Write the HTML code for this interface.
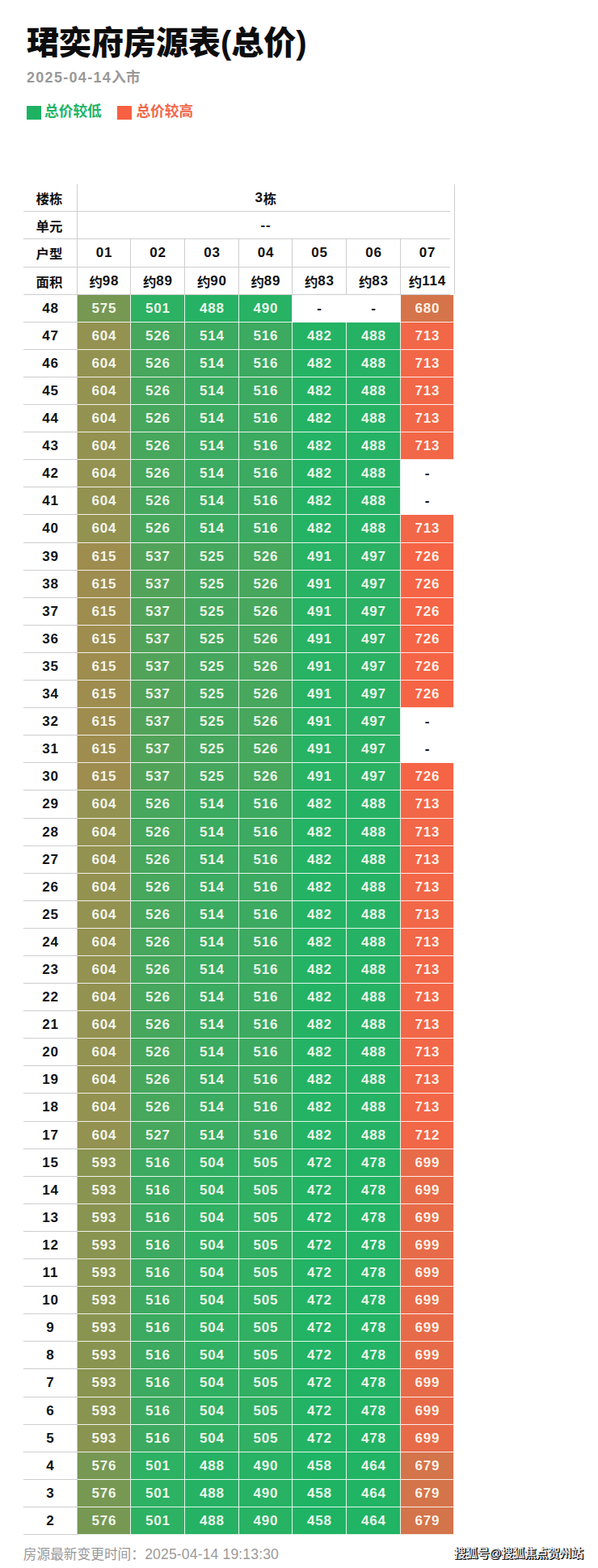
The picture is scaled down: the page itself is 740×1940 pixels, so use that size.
<!DOCTYPE html>
<html lang="zh-CN"><head><meta charset="utf-8">
<meta name="viewport" content="width=740">
<title>房源表</title>
<style>
html,body{margin:0;padding:0;background:#fff}
body{width:740px;height:1940px;position:relative;overflow:hidden;font-family:"Liberation Sans","Noto Sans CJK SC",sans-serif;color:#111}
.a{position:absolute;white-space:nowrap;letter-spacing:0}
.title{margin:0;font-size:40px;color:#0d0d0d;position:absolute;left:32.9px;top:28.6px;line-height:48px;font-weight:900;white-space:nowrap}
.sub{position:absolute;left:33px;top:83.6px;font-size:18px;line-height:24px;font-weight:bold;color:#999;letter-spacing:1.3px;white-space:nowrap}
.legend i{position:absolute;top:131px;width:18px;height:17px}
i.lo{background:#1cb262}i.hi{background:#f76042}
.tbl{position:absolute;left:29px;top:228px;display:grid;grid-template-columns:67px 66px 67px 67px 66px 67px 67px 66px;grid-template-rows:34px 34px 35px 34px 34px 34px 34px 34px 34px 34px 34px 34px 35px 34px 34px 34px 34px 34px 34px 34px 34px 34px 35px 34px 34px 34px 34px 34px 34px 34px 34px 34px 34px 35px 34px 34px 34px 34px 34px 34px 34px 34px 34px 35px 34px 34px 34px 34px 34px;font-size:17px;font-weight:bold;letter-spacing:.8px;text-align:center}
.tbl>div{box-sizing:border-box;display:flex;align-items:center;justify-content:center;padding-left:.8px;border-right:1px solid rgba(255,255,255,.88);border-bottom:1px solid rgba(255,255,255,.88);white-space:nowrap}
.tbl>.h{border-color:#cecece;color:#111}
.tbl>.s{grid-column:2 / span 7}
.tbl>.k{padding-left:0;padding-right:2px}
.tbl .c{font-size:16.4px;letter-spacing:0}
.tbl>.d{color:rgba(255,255,250,.93)}
.tbl>.e{color:#111}
.mask{position:absolute;left:557px;top:228px;width:5px;height:137px;background:#fff}
.rb{position:absolute;left:562px;top:228px;width:1px;height:136px;background:#cecece}
.foot{position:absolute;left:179.2px;top:1911.1px;font-size:17.6px;line-height:24px;color:#9a9a9a;letter-spacing:.13px;white-space:nowrap}

.v458{background:#1eb464}
.v464{background:#20b464}
.v472{background:#22b364}
.v478{background:#23b364}
.v482{background:#24b364}
.v488{background:#26b264}
.v490{background:#27b264}
.v491{background:#28b264}
.v497{background:#2bb163}
.v501{background:#2db163}
.v504{background:#30b062}
.v505{background:#31af62}
.v514{background:#3aab60}
.v516{background:#3caa60}
.v525{background:#45a75d}
.v526{background:#46a75d}
.v527{background:#47a75d}
.v537{background:#52a35a}
.v575{background:#769853}
.v576{background:#779853}
.v593{background:#8a9451}
.v604{background:#939251}
.v615{background:#9e8d4f}
.v679{background:#d4744b}
.v680{background:#d5744b}
.v699{background:#e86b49}
.v712{background:#f16748}
.v713{background:#f26748}
.v726{background:#f66446}
</style></head><body>
<h1 class="title">珺奕府房源表(总价)</h1>
<div class="sub">2025-04-14</div><span class="a" style="left:138px;top:86.4px;font-size:17.8px;line-height:21.36px;font-weight:bold;color:#999">入市</span>
<div class="legend"><i class="lo" style="left:33px"></i><span class="a" style="left:55px;top:128.1px;font-size:17.7px;line-height:21.24px;font-weight:bold;color:#20b466">总价较低</span><i class="hi" style="left:145.4px"></i><span class="a" style="left:168.4px;top:128.1px;font-size:17.7px;line-height:21.24px;font-weight:bold;color:#f2674b">总价较高</span></div>
<div class="tbl">
<div class="h k"><span class="c">楼栋</span></div><div class="h s">3<span class="c">栋</span></div>
<div class="h k"><span class="c">单元</span></div><div class="h s">--</div>
<div class="h k"><span class="c">户型</span></div><div class="h">01</div><div class="h">02</div><div class="h">03</div><div class="h">04</div><div class="h">05</div><div class="h">06</div><div class="h">07</div>
<div class="h k"><span class="c">面积</span></div><div class="h"><span class="c">约</span>98</div><div class="h"><span class="c">约</span>89</div><div class="h"><span class="c">约</span>90</div><div class="h"><span class="c">约</span>89</div><div class="h"><span class="c">约</span>83</div><div class="h"><span class="c">约</span>83</div><div class="h"><span class="c">约</span>114</div>
<div class="h">48</div><div class="d v575">575</div><div class="d v501">501</div><div class="d v488">488</div><div class="d v490">490</div><div class="e">-</div><div class="e">-</div><div class="d v680">680</div>
<div class="h">47</div><div class="d v604">604</div><div class="d v526">526</div><div class="d v514">514</div><div class="d v516">516</div><div class="d v482">482</div><div class="d v488">488</div><div class="d v713">713</div>
<div class="h">46</div><div class="d v604">604</div><div class="d v526">526</div><div class="d v514">514</div><div class="d v516">516</div><div class="d v482">482</div><div class="d v488">488</div><div class="d v713">713</div>
<div class="h">45</div><div class="d v604">604</div><div class="d v526">526</div><div class="d v514">514</div><div class="d v516">516</div><div class="d v482">482</div><div class="d v488">488</div><div class="d v713">713</div>
<div class="h">44</div><div class="d v604">604</div><div class="d v526">526</div><div class="d v514">514</div><div class="d v516">516</div><div class="d v482">482</div><div class="d v488">488</div><div class="d v713">713</div>
<div class="h">43</div><div class="d v604">604</div><div class="d v526">526</div><div class="d v514">514</div><div class="d v516">516</div><div class="d v482">482</div><div class="d v488">488</div><div class="d v713">713</div>
<div class="h">42</div><div class="d v604">604</div><div class="d v526">526</div><div class="d v514">514</div><div class="d v516">516</div><div class="d v482">482</div><div class="d v488">488</div><div class="e">-</div>
<div class="h">41</div><div class="d v604">604</div><div class="d v526">526</div><div class="d v514">514</div><div class="d v516">516</div><div class="d v482">482</div><div class="d v488">488</div><div class="e">-</div>
<div class="h">40</div><div class="d v604">604</div><div class="d v526">526</div><div class="d v514">514</div><div class="d v516">516</div><div class="d v482">482</div><div class="d v488">488</div><div class="d v713">713</div>
<div class="h">39</div><div class="d v615">615</div><div class="d v537">537</div><div class="d v525">525</div><div class="d v526">526</div><div class="d v491">491</div><div class="d v497">497</div><div class="d v726">726</div>
<div class="h">38</div><div class="d v615">615</div><div class="d v537">537</div><div class="d v525">525</div><div class="d v526">526</div><div class="d v491">491</div><div class="d v497">497</div><div class="d v726">726</div>
<div class="h">37</div><div class="d v615">615</div><div class="d v537">537</div><div class="d v525">525</div><div class="d v526">526</div><div class="d v491">491</div><div class="d v497">497</div><div class="d v726">726</div>
<div class="h">36</div><div class="d v615">615</div><div class="d v537">537</div><div class="d v525">525</div><div class="d v526">526</div><div class="d v491">491</div><div class="d v497">497</div><div class="d v726">726</div>
<div class="h">35</div><div class="d v615">615</div><div class="d v537">537</div><div class="d v525">525</div><div class="d v526">526</div><div class="d v491">491</div><div class="d v497">497</div><div class="d v726">726</div>
<div class="h">34</div><div class="d v615">615</div><div class="d v537">537</div><div class="d v525">525</div><div class="d v526">526</div><div class="d v491">491</div><div class="d v497">497</div><div class="d v726">726</div>
<div class="h">32</div><div class="d v615">615</div><div class="d v537">537</div><div class="d v525">525</div><div class="d v526">526</div><div class="d v491">491</div><div class="d v497">497</div><div class="e">-</div>
<div class="h">31</div><div class="d v615">615</div><div class="d v537">537</div><div class="d v525">525</div><div class="d v526">526</div><div class="d v491">491</div><div class="d v497">497</div><div class="e">-</div>
<div class="h">30</div><div class="d v615">615</div><div class="d v537">537</div><div class="d v525">525</div><div class="d v526">526</div><div class="d v491">491</div><div class="d v497">497</div><div class="d v726">726</div>
<div class="h">29</div><div class="d v604">604</div><div class="d v526">526</div><div class="d v514">514</div><div class="d v516">516</div><div class="d v482">482</div><div class="d v488">488</div><div class="d v713">713</div>
<div class="h">28</div><div class="d v604">604</div><div class="d v526">526</div><div class="d v514">514</div><div class="d v516">516</div><div class="d v482">482</div><div class="d v488">488</div><div class="d v713">713</div>
<div class="h">27</div><div class="d v604">604</div><div class="d v526">526</div><div class="d v514">514</div><div class="d v516">516</div><div class="d v482">482</div><div class="d v488">488</div><div class="d v713">713</div>
<div class="h">26</div><div class="d v604">604</div><div class="d v526">526</div><div class="d v514">514</div><div class="d v516">516</div><div class="d v482">482</div><div class="d v488">488</div><div class="d v713">713</div>
<div class="h">25</div><div class="d v604">604</div><div class="d v526">526</div><div class="d v514">514</div><div class="d v516">516</div><div class="d v482">482</div><div class="d v488">488</div><div class="d v713">713</div>
<div class="h">24</div><div class="d v604">604</div><div class="d v526">526</div><div class="d v514">514</div><div class="d v516">516</div><div class="d v482">482</div><div class="d v488">488</div><div class="d v713">713</div>
<div class="h">23</div><div class="d v604">604</div><div class="d v526">526</div><div class="d v514">514</div><div class="d v516">516</div><div class="d v482">482</div><div class="d v488">488</div><div class="d v713">713</div>
<div class="h">22</div><div class="d v604">604</div><div class="d v526">526</div><div class="d v514">514</div><div class="d v516">516</div><div class="d v482">482</div><div class="d v488">488</div><div class="d v713">713</div>
<div class="h">21</div><div class="d v604">604</div><div class="d v526">526</div><div class="d v514">514</div><div class="d v516">516</div><div class="d v482">482</div><div class="d v488">488</div><div class="d v713">713</div>
<div class="h">20</div><div class="d v604">604</div><div class="d v526">526</div><div class="d v514">514</div><div class="d v516">516</div><div class="d v482">482</div><div class="d v488">488</div><div class="d v713">713</div>
<div class="h">19</div><div class="d v604">604</div><div class="d v526">526</div><div class="d v514">514</div><div class="d v516">516</div><div class="d v482">482</div><div class="d v488">488</div><div class="d v713">713</div>
<div class="h">18</div><div class="d v604">604</div><div class="d v526">526</div><div class="d v514">514</div><div class="d v516">516</div><div class="d v482">482</div><div class="d v488">488</div><div class="d v713">713</div>
<div class="h">17</div><div class="d v604">604</div><div class="d v527">527</div><div class="d v514">514</div><div class="d v516">516</div><div class="d v482">482</div><div class="d v488">488</div><div class="d v712">712</div>
<div class="h">15</div><div class="d v593">593</div><div class="d v516">516</div><div class="d v504">504</div><div class="d v505">505</div><div class="d v472">472</div><div class="d v478">478</div><div class="d v699">699</div>
<div class="h">14</div><div class="d v593">593</div><div class="d v516">516</div><div class="d v504">504</div><div class="d v505">505</div><div class="d v472">472</div><div class="d v478">478</div><div class="d v699">699</div>
<div class="h">13</div><div class="d v593">593</div><div class="d v516">516</div><div class="d v504">504</div><div class="d v505">505</div><div class="d v472">472</div><div class="d v478">478</div><div class="d v699">699</div>
<div class="h">12</div><div class="d v593">593</div><div class="d v516">516</div><div class="d v504">504</div><div class="d v505">505</div><div class="d v472">472</div><div class="d v478">478</div><div class="d v699">699</div>
<div class="h">11</div><div class="d v593">593</div><div class="d v516">516</div><div class="d v504">504</div><div class="d v505">505</div><div class="d v472">472</div><div class="d v478">478</div><div class="d v699">699</div>
<div class="h">10</div><div class="d v593">593</div><div class="d v516">516</div><div class="d v504">504</div><div class="d v505">505</div><div class="d v472">472</div><div class="d v478">478</div><div class="d v699">699</div>
<div class="h">9</div><div class="d v593">593</div><div class="d v516">516</div><div class="d v504">504</div><div class="d v505">505</div><div class="d v472">472</div><div class="d v478">478</div><div class="d v699">699</div>
<div class="h">8</div><div class="d v593">593</div><div class="d v516">516</div><div class="d v504">504</div><div class="d v505">505</div><div class="d v472">472</div><div class="d v478">478</div><div class="d v699">699</div>
<div class="h">7</div><div class="d v593">593</div><div class="d v516">516</div><div class="d v504">504</div><div class="d v505">505</div><div class="d v472">472</div><div class="d v478">478</div><div class="d v699">699</div>
<div class="h">6</div><div class="d v593">593</div><div class="d v516">516</div><div class="d v504">504</div><div class="d v505">505</div><div class="d v472">472</div><div class="d v478">478</div><div class="d v699">699</div>
<div class="h">5</div><div class="d v593">593</div><div class="d v516">516</div><div class="d v504">504</div><div class="d v505">505</div><div class="d v472">472</div><div class="d v478">478</div><div class="d v699">699</div>
<div class="h">4</div><div class="d v576">576</div><div class="d v501">501</div><div class="d v488">488</div><div class="d v490">490</div><div class="d v458">458</div><div class="d v464">464</div><div class="d v679">679</div>
<div class="h">3</div><div class="d v576">576</div><div class="d v501">501</div><div class="d v488">488</div><div class="d v490">490</div><div class="d v458">458</div><div class="d v464">464</div><div class="d v679">679</div>
<div class="h">2</div><div class="d v576">576</div><div class="d v501">501</div><div class="d v488">488</div><div class="d v490">490</div><div class="d v458">458</div><div class="d v464">464</div><div class="d v679">679</div>
</div>
<div class="mask"></div><div class="rb"></div>
<span class="a" style="left:28.8px;top:1913.5px;font-size:16.7px;line-height:20.04px;color:#989898">房源最新变更时间：</span><div class="foot">2025-04-14 19:13:30</div>
<span class="a" style="left:562px;top:1914.4px;font-size:14.5px;line-height:17.4px;font-weight:500;color:#fff;text-shadow:.8px .8px 0 #1a1a1a,1.4px .8px 0 #1a1a1a,.2px .8px 0 #1a1a1a,.8px 1.4px 0 #1a1a1a,.8px .2px 0 #1a1a1a,1.3px 1.3px 0 #1a1a1a,.3px .3px 0 #1a1a1a">搜狐号@搜狐焦点贺州站</span>
</body></html>
